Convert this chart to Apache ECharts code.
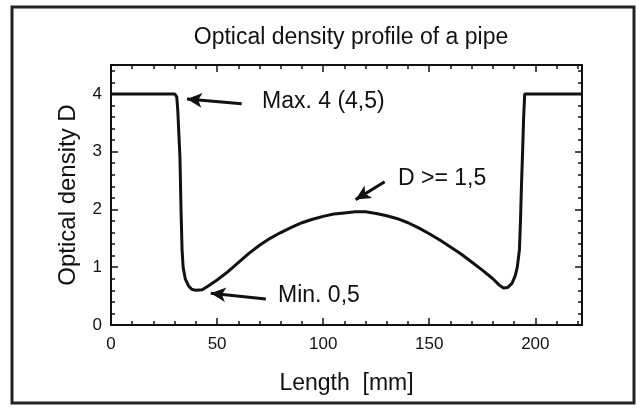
<!DOCTYPE html>
<html>
<head>
<meta charset="utf-8">
<script src="https://cdn.jsdelivr.net/npm/echarts@6/dist/echarts.min.js"></script>
<style>
html,body{margin:0;padding:0;background:#fff;}
#canvas{width:636px;height:408px;}
</style>
</head>
<body>
<div id="canvas"></div>
<script>
// profile: length [mm], optical density D
var lengthMm = [0,30,31,31.5,32,32.5,33,33.5,34,35,36.5,38,40,43,46,50,55,60,65,70,75,80,85,90,95,100,105,110,115,120,125,130,135,140,145,150,155,160,165,170,175,180,183,185,187,189,190.5,191.5,192.5,193,193.5,194,194.5,195,196,222];
var density  = [4.0,4.0,3.95,3.7,3.3,2.9,2.0,1.3,1.0,0.8,0.68,0.62,0.6,0.61,0.68,0.78,0.92,1.08,1.24,1.38,1.5,1.6,1.69,1.77,1.83,1.88,1.92,1.94,1.96,1.96,1.93,1.89,1.84,1.77,1.68,1.58,1.47,1.35,1.23,1.09,0.95,0.8,0.69,0.64,0.65,0.72,0.85,1.0,1.3,1.8,2.45,3.0,3.6,4.0,4.0,4.0];
var xTicks = [0,50,100,150,200];
var yTicks = [0,1,2,3,4];

// arrows: [tail, tip] in data coords
var arrowMax = [[61.6,3.83],[35.8,3.91]];
var arrowMin = [[73,0.45],[47,0.55]];
var arrowD   = [[129,2.48],[115.3,2.17]];

var pts = lengthMm.map(function(x,i){ return [x, density[i]]; });

var dom = document.getElementById("canvas");
var myChart = echarts.init(dom);
var font = 'Liberation Sans';

function axisBase(show){
    return {
        axisLine: {show: true, onZero: false, lineStyle: {color: '#111', width: 2}},
        axisTick: {show: true, inside: true, length: 7, lineStyle: {color: '#111', width: 1.5}},
        minorTick: {show: true, splitNumber: 5, length: 4, lineStyle: {color: '#111', width: 1.5}},
        splitLine: {show: false},
        axisLabel: {show: show, color: '#111', fontFamily: font, fontSize: 17}
    };
}

function arrow(a){
    return [
        {coord: a[0], symbol: 'none'},
        {coord: a[1], symbol: 'arrow', symbolSize: [11, 15]}
    ];
}

var option = {
    animation: false,
    title: {
        text: 'Optical density profile of a pipe',
        left: 346, top: 21, textAlign: 'center',
        textStyle: {fontFamily: font, fontSize: 23, fontWeight: 'normal', color: '#111'}
    },
    grid: {left: 111, right: 54, top: 65, bottom: 83},
    xAxis: [
        Object.assign(axisBase(true), {
            type: 'value', min: 0, max: 222, interval: 50,
            name: 'Length  [mm]', nameLocation: 'middle', nameGap: 47,
            nameTextStyle: {fontFamily: font, fontSize: 23, color: '#111'},
            axisLabel: {color: '#111', fontFamily: font, fontSize: 17, margin: 11,
                formatter: function(v){ return xTicks.indexOf(v) >= 0 ? String(v) : ''; }}
        }),
        Object.assign(axisBase(false), {
            type: 'value', min: 0, max: 222, interval: 50, position: 'top'
        })
    ],
    yAxis: [
        Object.assign(axisBase(true), {
            type: 'value', min: 0, max: 4.5, interval: 1,
            name: 'Optical density D', nameLocation: 'middle', nameGap: 31,
            nameTextStyle: {fontFamily: font, fontSize: 24, color: '#111'},
            axisLabel: {color: '#111', fontFamily: font, fontSize: 17, margin: 9,
                formatter: function(v){ return yTicks.indexOf(v) >= 0 ? String(v) : ''; }}
        }),
        Object.assign(axisBase(false), {
            type: 'value', min: 0, max: 4.5, interval: 1, position: 'right'
        })
    ],
    graphic: [
        {type: 'rect', shape: {x: 12, y: 7, width: 622, height: 396},
         style: {fill: 'none', stroke: '#222', lineWidth: 3}, silent: true},
        {type: 'text', left: 262, top: 90,
         style: {text: 'Max. 4 (4,5)', fontFamily: font, fontSize: 23, fill: '#111'}},
        {type: 'text', left: 278, top: 284,
         style: {text: 'Min. 0,5', fontFamily: font, fontSize: 23, fill: '#111'}},
        {type: 'text', left: 398, top: 167,
         style: {text: 'D >= 1,5', fontFamily: font, fontSize: 23, fill: '#111'}}
    ],
    series: [
        {
            name: 'D',
            type: 'line',
            data: pts,
            symbol: 'none',
            lineStyle: {color: '#111', width: 3},
            markLine: {
                silent: true,
                animation: false,
                label: {show: false},
                lineStyle: {color: '#111', width: 3, type: 'solid'},
                data: [arrow(arrowMax), arrow(arrowMin), arrow(arrowD)]
            }
        }
    ]
};

if (option && typeof option === "object") {
    myChart.setOption(option, true);
}
</script>
</body>
</html>
